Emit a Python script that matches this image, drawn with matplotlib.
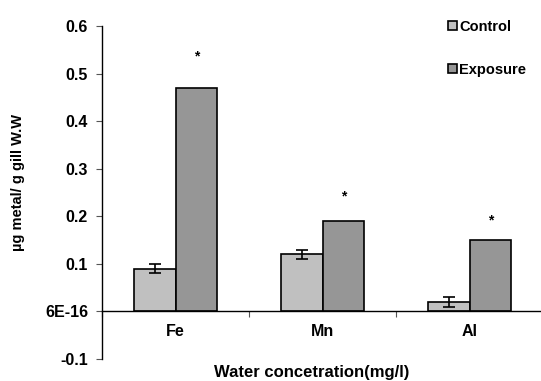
import numpy as np
import matplotlib
matplotlib.use('Agg')
import matplotlib.pyplot as plt
from matplotlib.patches import Patch

plt.rcParams['font.family'] = ['Liberation Sans', 'DejaVu Sans']
plt.rcParams['font.weight'] = 'bold'

metals = ['Fe', 'Mn', 'Al']
control = [0.09, 0.12, 0.02]
control_err = [0.01, 0.01, 0.01]
exposure = [0.47, 0.19, 0.15]
star_pos = [0.537, 0.241, 0.191]
yticks = [-0.1, 0.0, 0.1, 0.2, 0.3, 0.4, 0.5, 0.6]
ytick_labels = ['-0.1', '6E-16', '0.1', '0.2', '0.3', '0.4', '0.5', '0.6']

fig = plt.figure(figsize=(5.41, 3.81), dpi=100)
ax = fig.add_axes([102/541, 22/381, 441/541, 333/381])

x = np.arange(len(metals))
w = 0.285
ax.bar(x - w/2, control, w, color='#c0c0c0', edgecolor='black', linewidth=1.2,
       yerr=control_err, error_kw=dict(ecolor='black', elinewidth=1.2, capsize=4, capthick=1.2),
       label='Control', zorder=2)
ax.bar(x + w/2, exposure, w, color='#969696', edgecolor='black', linewidth=1.2,
       label='Exposure', zorder=2)
for xi, s in zip(x, star_pos):
    ax.text(xi + w/2, s, '*', ha='center', va='center', fontsize=10, fontweight='bold')

ax.set_xlim(-0.5, 2.5)
ax.set_ylim(-0.1, 0.6)
ax.set_yticks(yticks)
ax.set_yticklabels(ytick_labels, fontsize=11.5, fontweight='bold')

ax.spines['top'].set_visible(False)
ax.spines['right'].set_visible(False)
ax.spines['bottom'].set_position(('data', 0))
ax.spines['left'].set_linewidth(1.0)
ax.spines['bottom'].set_linewidth(1.0)

ax.set_xticks([-0.5, 0.5, 1.5, 2.5])
ax.set_xticklabels([])
ax.set_xticks(x, minor=True)
ax.set_xticklabels(metals, minor=True, fontsize=11.5, fontweight='bold')
ax.tick_params(axis='x', which='minor', length=0, pad=9)
ax.tick_params(axis='x', which='major', length=4, direction='out', color='#555555')
ax.tick_params(axis='y', length=4, direction='out', pad=6, color='#555555')

fig.text(18/541, 0.5 + 8/381, 'µg metal/ g gill W.W', rotation=90, ha='center', va='center',
         fontsize=10.5, fontweight='bold')
fig.text(312/541, 0.003, 'Water concetration(mg/l)', ha='center', va='bottom',
         fontsize=12, fontweight='bold')

handles = [Patch(facecolor='#c0c0c0', edgecolor='black', linewidth=1.2, label='Control'),
           Patch(facecolor='#969696', edgecolor='black', linewidth=1.2, label='Exposure')]
fig.legend(handles=handles, loc='upper left', bbox_to_anchor=(442/541, 1 - 14/381),
           frameon=False, fontsize=10.5, handlelength=0.6, handleheight=0.6,
           handletextpad=0.2, labelspacing=2.0, borderaxespad=0)

fig.savefig('out.png', dpi=100)
